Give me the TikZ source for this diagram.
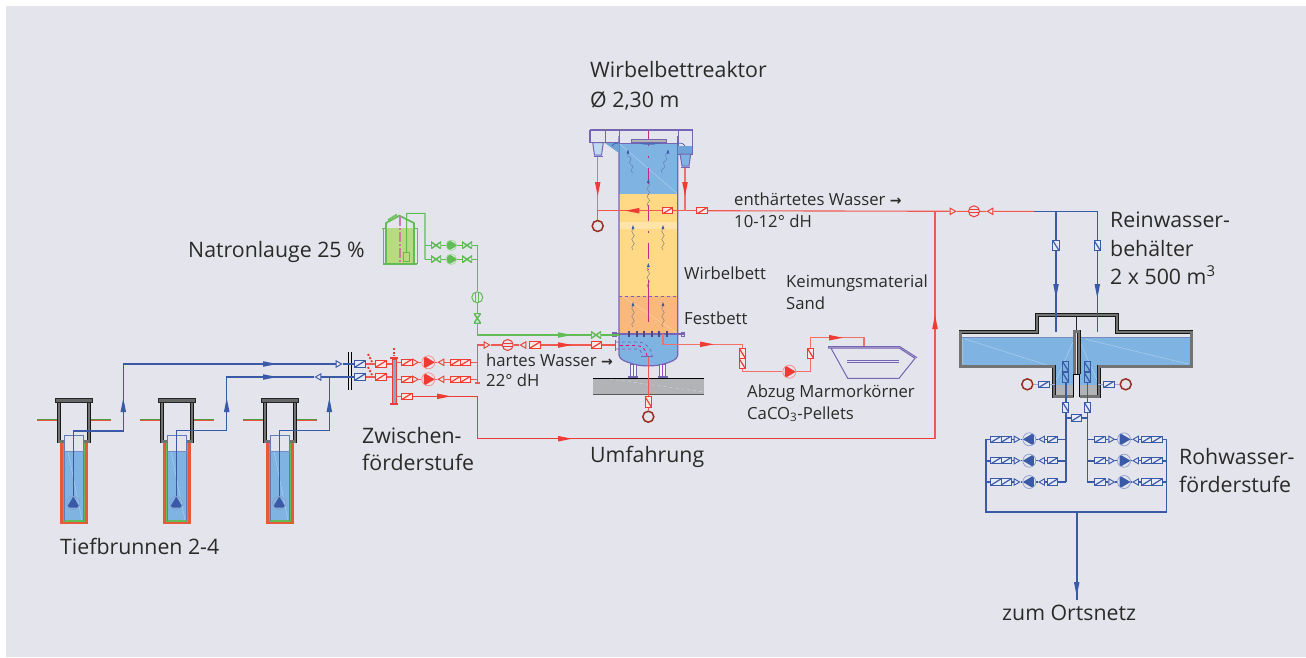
\documentclass[tikz,border=0pt]{standalone}
\usepackage{fontspec}
\setmainfont{Open Sans}[Scale=1]
\newfontfamily\arrfont{DejaVu Sans}
\usetikzlibrary{shapes.geometric,decorations.pathmorphing}
\definecolor{bgc}{HTML}{E4E5EC}
\definecolor{rd}{HTML}{EE3B33}
\definecolor{rdl}{HTML}{F2706A}
\definecolor{bl}{HTML}{3A5AA8}
\definecolor{gr}{HTML}{62BC55}
\definecolor{grf}{HTML}{B7DC80}
\definecolor{pu}{HTML}{7565B3}
\definecolor{dkr}{HTML}{9B2C22}
\definecolor{wat}{HTML}{7FB4E2}
\definecolor{yel}{HTML}{FFD985}
\definecolor{ora}{HTML}{F9B87C}
\definecolor{gry}{HTML}{B1B3B6}
\definecolor{txc}{HTML}{2B2A29}
\definecolor{cas}{HTML}{E8593A}
\tikzset{
 big/.style={anchor=base west,inner sep=0,text=txc,font=\fontsize{21.3}{24}\selectfont},
 small/.style={anchor=base west,inner sep=0,text=txc,font=\fontsize{16.7}{19}\selectfont},
 vh/.style={rectangle,draw=#1,fill=#1!12,line width=1pt,minimum width=10.5pt,minimum height=6.5pt,inner sep=0,
   path picture={\draw[#1,line width=1.2pt](path picture bounding box.south west)--(path picture bounding box.north east);}},
 vv/.style={rectangle,draw=#1,fill=#1!12,line width=1pt,minimum width=6.5pt,minimum height=10.5pt,inner sep=0,
   path picture={\draw[#1,line width=1.2pt](path picture bounding box.north west)--(path picture bounding box.south east);}},
 chkr/.style={isosceles triangle,isosceles triangle apex angle=60,shape border rotate=0,draw=#1,line width=.9pt,minimum size=5.5pt,inner sep=0},
 chkl/.style={isosceles triangle,isosceles triangle apex angle=60,shape border rotate=180,draw=#1,line width=.9pt,minimum size=5.5pt,inner sep=0},
 pmpr/.style={circle,draw=#1!60,line width=.7pt,minimum size=13pt,inner sep=0,
   path picture={\fill[#1](path picture bounding box.center)++(6.5pt,0pt)--++(-11pt,6.5pt)--++(0pt,-13pt)--cycle;}},
 pmpl/.style={circle,draw=#1!60,line width=.7pt,minimum size=13pt,inner sep=0,
   path picture={\fill[#1](path picture bounding box.center)++(-6.5pt,0pt)--++(11pt,6.5pt)--++(0pt,-13pt)--cycle;}},
 pmpu/.style={circle,draw=#1!60,line width=.7pt,minimum size=13pt,inner sep=0,
   path picture={\fill[#1](path picture bounding box.center)++(0pt,6.5pt)--++(6.5pt,-11pt)--++(-13pt,0pt)--cycle;}},
 flowh/.style={circle,draw=#1,line width=1pt,minimum size=11pt,inner sep=0,
   path picture={\draw[#1,line width=.8pt]([yshift=1.5pt]path picture bounding box.west)--([yshift=1.5pt]path picture bounding box.east)
     ([yshift=-1.5pt]path picture bounding box.west)--([yshift=-1.5pt]path picture bounding box.east);}},
 flowv/.style={circle,draw=#1,line width=1pt,minimum size=11pt,inner sep=0,
   path picture={\draw[#1,line width=.8pt]([xshift=1.5pt]path picture bounding box.north)--([xshift=1.5pt]path picture bounding box.south)
     ([xshift=-1.5pt]path picture bounding box.north)--([xshift=-1.5pt]path picture bounding box.south);}},
 bowh/.style={rectangle,minimum width=10pt,minimum height=7pt,inner sep=0,
   path picture={\draw[#1,line width=1.5pt](path picture bounding box.south west)--(path picture bounding box.north east)--(path picture bounding box.south east)--(path picture bounding box.north west)--cycle;}},
 bowv/.style={rectangle,minimum width=7pt,minimum height=10pt,inner sep=0,
   path picture={\draw[#1,line width=1.5pt](path picture bounding box.south west)--(path picture bounding box.south east)--(path picture bounding box.north west)--(path picture bounding box.north east)--cycle;}},
 sink/.style={circle,draw=dkr,line width=1.5pt,minimum size=11pt,inner sep=0},
 rp/.style={draw=rd!85,line width=1.1pt},
 rpt/.style={draw=rd,line width=1.5pt},
 bp/.style={draw=bl,line width=1.1pt},
 bpt/.style={draw=bl,line width=1.6pt},
 gp/.style={draw=gr,line width=1.1pt},
 wall/.style={draw=black!90,line width=.7pt,double=black!55,double distance=2.2pt},
 wave/.style={draw=#1,line width=.45pt,decorate,decoration={snake,amplitude=1.3pt,segment length=8pt}},
 pale/.style={draw=white,opacity=.4,line width=.4pt},
}
\newcommand{\farr}[4]{\fill[#1,shift={(#2,#3)},rotate=#4](0,-2.8)--(14,0)--(0,2.8)--cycle;}
\newcommand{\well}[2]{%
 \draw[draw=cas,line width=1.8pt] (#2-37,420)--(#2-16,420) (#2+16,420)--(#2+37,420);
 \draw[draw=gr!80!black,line width=.8pt] (#2-37,419.5)--(#2-16,419.5) (#2+16,419.5)--(#2+37,419.5);
 \fill[cas] (#2-13.7,441.7) rectangle (#2+13.7,524);
 \fill[bgc] (#2-10.5,441.7) rectangle (#2+10.5,521);
 \fill[wat] (#2-10,451.7) rectangle (#2+10,520.5);
 \draw[pale] (#2-6,451.7)--(#2+8,520);
 \draw[gr,line width=1.1pt] (#2-10.5,441.7)--(#2-10.5,521)--(#2+10.5,521)--(#2+10.5,441.7);
 \draw[bl!80,line width=.8pt] (#2-9.7,520.5)--(#2-9.7,435.3)--(#2+9.7,435.3)--(#2+9.7,520.5);
 \draw[bl!70,line width=1.2pt] (#2-9.7,451.7)--(#2+9.7,451.7);
 \draw[wall] (#2-10,441.5)--(#2-15,441.5)--(#2-15,400)--(#2+15,400)--(#2+15,441.5)--(#2+10,441.5);
 \draw[black!85,fill=black!60,line width=.5pt] (#2-18.3,398) rectangle (#2+18.3,401.8);
 \node[pmpu=bl] (#1) at (#2-.7,503) {};
}
\begin{document}
\begin{tikzpicture}[x=1pt,y=-1pt]
\useasboundingbox (0,0) rectangle (1306,657);
\fill[white] (0,0) rectangle (1306,657);
\fill[bgc] (6,6) rectangle (1306,657);

% ---------- wells
\well{wa}{74}
\well{wb}{177}
\well{wc}{280}
\coordinate (wa1) at (73.3,430.7);
\coordinate (wa2) at (123.3,430.7);
\coordinate (wa3) at (123.3,364);
\coordinate (wb1) at (176.3,430.7);
\coordinate (wb2) at (226.7,430.7);
\coordinate (wb3) at (226.7,377);
\coordinate (wc1) at (279.3,430.7);
\coordinate (wc2) at (329.3,430.7);
\coordinate (wc3) at (329.3,377);
\draw[black,line width=1pt] (348.4,352)--(348.4,390) (351.6,352)--(351.6,390);
\node[chkr=bl] (c1) at (338,364) {};
\node[chkl=bl] (c2) at (319,377) {};
\node[vh=bl] (b1) at (360,364) {};
\node[vh=bl] (b2) at (360,377) {};
\draw[bpt] (wa) -- (wa1) -- (wa2) -- (wa3) -- (c1);
\draw[bp] (wb) -- (wb1) -- (wb2) -- (wb3) -- (c2);
\draw[bp] (wc) -- (wc1) -- (wc2) -- (wc3) -- (c2);
\draw[bp] (c1) -- (b1);
\draw[bp] (c2) -- (b2);
\farr{bl}{123.3}{412}{90}
\farr{bl}{226.7}{412}{90}
\farr{bl}{329.3}{412}{90}
\farr{bl}{263}{364}{0}
\farr{bl}{263}{377}{0}

% ---------- intermediate pumping stage
\fill[wat!85!gray] (392,359) rectangle (396,403);
\draw[rd,line width=1pt] (392,359) rectangle (396,403);
\draw[rd,line width=2pt] (390,358)--(398,358) (390,404)--(398,404);
\draw[rd,line width=2pt,dash pattern=on 2pt off 1.6pt] (394,348)--(394,356);
\draw[rd,line width=2pt,dash pattern=on 2pt off 1.6pt] (368,354)--(372,362) (368,367)--(372,375);
\coordinate (d1) at (370,364);
\coordinate (d2) at (370,377);
\coordinate (h1) at (392,364);
\coordinate (h2) at (392,377);
\node[vh=rd] (r1) at (381,364) {};
\node[vh=rd] (r2) at (381,377) {};
\draw[rp] (b1) -- (r1) -- (h1);
\draw[rp] (b2) -- (r2) -- (h2);
\foreach \n/\y in {a/362.3,b/379.3}{
 \node[vh=rd] (s\n1) at (407,\y) {};
 \node[chkr=rd] (s\n2) at (414.5,\y) {};
 \node[pmpr=rd] (s\n3) at (428.3,\y) {};
 \node[chkl=rd] (s\n4) at (442,\y) {};
 \node[vh=rd] (s\n5) at (455.5,\y) {};
 \node[vh=rd] (s\n6) at (465.5,\y) {};
 \coordinate (s\n0) at (396,\y);
 \coordinate (s\n7) at (477.3,\y);
 \draw[rp] (s\n0)--(s\n1) (s\n2)--(s\n3)--(s\n4)--(s\n5) (s\n6)--(s\n7);
}
\node[vh=rd] (by) at (407,396.3) {};
\coordinate (by0) at (396,396.3);
\coordinate (by1) at (477.3,396.3);
\coordinate (by2) at (477.3,438.7);
\coordinate (by3) at (935,438.7);
\coordinate (by4) at (935,211);
\draw[rp] (by0)--(by);
\draw[rpt] (by)--(by1)--(by2)--(by3);
\draw[rp] (by3)--(by4);
\farr{rd}{437}{396.3}{0}
\farr{rd}{558}{438.7}{0}
\farr{rd}{935}{329}{90}

% ---------- hard water line
\coordinate (hw0) at (477.3,383);
\coordinate (hw1) at (477.3,345);
\draw[rp] (hw0)--(hw1);
\draw[rp] (474.5,383)--(480,383);
\node[chkr=rd] (hc1) at (486,345) {};
\node[flowh=rd] (hf) at (507.7,345) {};
\node[chkl=rd] (hc2) at (524,345) {};
\node[vh=rd] (hv1) at (535,345) {};
\node[vh=rd] (hv2) at (596.7,345) {};
\coordinate (hend) at (616,345);
\draw[rp] (hw1)--(hc1)--(hf)--(hc2) (hv1)--(hv2)--(hend);
\farr{rd}{558}{345}{0}

% ---------- reactor body
\fill[wat] (619,143.3) rectangle (677.7,194);
\fill[yel] (619,194) rectangle (677.7,296);
\fill[yel!70!white] (619,222) rectangle (677.7,229);
\fill[ora] (619,296) rectangle (677.7,333.5);
\fill[wat] (619,333.5)--(677.7,333.5)--(677.7,355) .. controls (677.7,360) and (670,362) .. (664,364) .. controls (655,366.5) and (641,366.5) .. (633,364) .. controls (627,362) and (619,360) .. (619,355) -- cycle;
\draw[pale] (619,143.3)--(677.7,194);
\draw[pale] (622,296)--(677,333);
\draw[pu,line width=1.2pt] (619,136)--(619,355) .. controls (619,360) and (627,362) .. (633,364) .. controls (641,366.5) and (655,366.5) .. (664,364) .. controls (670,362) and (677.7,360) .. (677.7,355) -- (677.7,136);
\draw[pu,line width=1pt] (619,143.3)--(677.7,143.3);
\draw[pu,line width=.9pt,dashed] (619,296)--(677.7,296);
\draw[magenta!80!black,line width=.8pt,dash pattern=on 16pt off 10pt on 1.5pt off 10pt] (648.3,130)--(648.3,296);
\draw[magenta!80!black,line width=.9pt] (648.3,296)--(648.3,322);
% head
\draw[pu,line width=1.2pt] (590,130)--(692.7,130)--(692.7,154)--(678,154) (590,130)--(590,142.7)--(619,142.7);
\draw[pu,line width=.7pt] (605,130)--(605,142.7) (619,130)--(619,143) (678,130)--(678,154);
\fill[wat!80!bl] (605,143)--(619,143)--(619,153)--cycle;
\fill[wat!80!bl] (678,146)--(692,146)--(692,154)--(678,154)--cycle;
\draw[pu,line width=1pt,fill=wat!50] (592.7,142.7)--(603.3,142.7)--(601.5,155)--(594.5,155)--cycle;
\draw[pu,line width=1.4pt] (593.5,156.7)--(602.5,156.7);
\draw[pu,line width=1pt,fill=wat] (680,154)--(690.7,154)--(689,166)--(682,166)--cycle;
\draw[pu,line width=1.4pt] (681,167.7)--(690,167.7);
\fill[bl!80!wat] (634,141)--(664,141) .. controls (658,146) and (640,146) .. (634,141) -- cycle;
\draw[pu,fill=gray!60,line width=.5pt] (631,139.5) rectangle (666,142.5);
\draw[bl,line width=.7pt] (612,146) .. controls (614,143) and (616,143) .. (619,143) (677.7,143) .. controls (681,143) and (683,143) .. (685,146);
% waves
\draw[wave=bl!80] (633,173)--(628,151);
\draw[wave=bl!80] (662,173)--(668,150);
\draw[wave=gray] (648.3,207)--(648.3,180);
\draw[wave=gray] (633,250)--(633,227);
\draw[wave=gray] (663,250)--(663,227);
\draw[wave=gray] (648.3,288)--(648.3,265);
\draw[wave=gray] (633,327)--(633,304);
\draw[wave=gray] (663,327)--(663,304);
\fill[bl] (633,225)--(631.6,229)--(634.4,229)--cycle (663,225)--(661.6,229)--(664.4,229)--cycle (648.3,263)--(646.9,267)--(649.7,267)--cycle
 (633,302)--(631.6,306)--(634.4,306)--cycle (663,302)--(661.6,306)--(664.4,306)--cycle (648.3,179)--(646.9,183)--(649.7,183)--cycle
 (628,149.5)--(626.6,153.5)--(629.4,153.5)--cycle (668,149.5)--(666.6,153.5)--(669.4,153.5)--cycle;
% bottom plate & inlet
\draw[pu,line width=1.8pt] (612.7,334)--(684,334);
\draw[pu,line width=.8pt] (612.7,332)--(616,332)--(616,336)--(612.7,336)--cycle (681,332)--(684,332)--(684,336)--(681,336)--cycle;
\foreach \x in {629,637,644,652,659,667}{\draw[pu!70!black,line width=2pt] (\x,331)--(\x,337);}
\draw[pu,line width=.9pt] (615,340)--(615,351);
\draw[pu,line width=.8pt,dashed] (616,342)--(638,342) .. controls (645,342) and (652,349) .. (652,356);
\draw[pu,line width=.8pt,dashed] (616,349)--(636,349) .. controls (640,349) and (642,352) .. (642,356);
\draw[pu,line width=1pt] (641,356.6)--(653,356.6);
\draw[magenta!70!red,line width=.8pt,dashed] (620,345.5)--(636,345.5) .. controls (642,345.5) and (647,350) .. (647,356);
% legs & foundation
\foreach \x in {633.3,662.7}{
 \draw[pu,line width=.8pt,fill=white!60!bgc] (\x-3,364) rectangle (\x+3,377);
 \draw[pu!70!magenta,line width=.8pt] (\x,364)--(\x,377);
 \draw[pu,line width=1.1pt] (\x-5,377)--(\x+5,377);
}
\fill[gry] (593.3,378.3) rectangle (704,394);
\draw[black,line width=.9pt] (593.3,378.3)--(704,378.3);
\draw[black!65,line width=.9pt] (593.3,394)--(704,394);
\draw[white,opacity=.5,line width=.4pt,dashed] (610,379)--(704,392);
% reactor outlets
\node[sink] (s1) at (597.7,226) {};
\coordinate (o1) at (597.7,157);
\coordinate (o2) at (597.7,210.7);
\node[vh=rd] (rv1) at (667.7,210.7) {};
\coordinate (o3) at (685,167.7);
\coordinate (o4) at (685,210.7);
\node[vh=rd] (rv2) at (702,210.7) {};
\draw[draw=rdl,line width=1.2pt] (o1)--(o2);
\draw[rp] (s1)--(o2)--(rv1)--(o4)--(rv2);
\draw[draw=rdl,line width=1.2pt] (o3)--(o4);
\farr{rd}{597.7}{182}{-90}
\farr{rd}{685}{182}{-90}
\farr{rd}{639.3}{210.7}{180}
% soft water line
\node[chkr=rd] (sw1) at (952,211.3) {};
\node[flowh=rd] (sw2) at (974,211.3) {};
\node[chkl=rd] (sw3) at (991,211.3) {};
\coordinate (sw4) at (1034,211.3);
\draw[rp] (rv2)--(sw1)--(sw2)--(sw3)--(sw4);
% bottom drain
\node[vv=rd] (dv) at (648.3,402) {};
\node[sink] (ds) at (648.3,416.7) {};
\coordinate (d0) at (648.3,356.6);
\draw[rp] (d0)--(dv)--(ds);
% pellet discharge
\coordinate (p0) at (663,334);
\coordinate (p1) at (663,344.3);
\coordinate (p2) at (742.3,344.3);
\node[vv=rd] (pv1) at (742.3,353.3) {};
\node[vv=rd] (pv2) at (742.3,363.7) {};
\coordinate (p3) at (742.3,371.7);
\node[pmpr=rd] (pp) at (789.3,371.7) {};
\coordinate (p4) at (810.7,371.7);
\node[vv=rd] (pv3) at (810.7,353.7) {};
\coordinate (p5) at (810.7,337.7);
\coordinate (p6) at (864,337.7);
\coordinate (p7) at (864,346.7);
\draw[draw=rdl,line width=1.2pt] (p0)--(p1)--(p2)--(pv1) (pv2)--(p3)--(pp)--(p4)--(pv3)--(p5)--(p6)--(p7);
\farr{rd}{700}{344.3}{0}
\farr{rd}{829}{337.7}{0}
% skip
\draw[pu,line width=1pt] (828,346.7)--(900,346.7)--(917,357.7) (828,348.2)--(899.5,348.2)--(915,358.3)--(899,378.3)--(847.7,378.3)--(831,348.2);
\draw[pu,line width=1pt] (828,346.7)--(828,348.2);
\draw[pu,line width=1pt] (847,360.7)--(899,360.7) (847,362.6)--(899,362.6);

% ---------- caustic soda
\fill[grf] (386,228) rectangle (414,264);
\draw[gr,line width=1.7pt] (386,264)--(386,223)--(399.3,215.7)--(414,223)--(414,264);
\draw[gr,line width=1.7pt] (383,264)--(417,264);
\draw[gr,line width=1pt] (383,228.5)--(383,264) (417,228.5)--(417,264) (382,228.5)--(386,228.5) (414,228.5)--(418,228.5);
\draw[gr,line width=1.8pt,dash pattern=on 1.5pt off .5pt] (388,220)--(397,214.5);
\draw[magenta!55!gray!80,line width=1.6pt,dash pattern=on 10pt off 2pt on 2pt off 2pt] (399.7,216)--(399.7,263);
\node[rectangle,draw=gr,line width=1pt,minimum width=6.5pt,minimum height=9pt,inner sep=0] (nbox) at (406.5,257.2) {};
\coordinate (n1) at (406.7,213.3);
\coordinate (n2) at (425,213.3);
\coordinate (n3) at (425,245.3);
\coordinate (n4) at (425,259.3);
\draw[gp] (nbox)--(n1)--(n2)--(n4);
\foreach \n/\y in {a/245.3,b/259.3}{
 \node[bowh=gr] (g\n1) at (436,\y) {};
 \node[pmpr=gr,minimum size=10.5pt] (g\n2) at (451.3,\y) {};
 \node[bowh=gr] (g\n3) at (467,\y) {};
 \coordinate (g\n4) at (477.3,\y);
}
\draw[gp] (n3)--(ga1)--(ga2)--(ga3)--(ga4);
\draw[gp] (n4)--(gb1)--(gb2)--(gb3)--(gb4);
\node[flowv=gr] (gf) at (477.3,297.3) {};
\node[bowv=gr] (gv) at (477.3,318.3) {};
\coordinate (g5) at (477.3,335);
\node[bowh=gr] (gv2) at (596,335) {};
\coordinate (g6) at (619,335);
\draw[gp] (ga4)--(gf)--(gv)--(g5)--(gv2)--(g6);
\farr{gr}{558}{335}{0}

% ---------- clean water tank
\fill[wat] (962.3,337.3)--(1073.3,337.3)--(1073.3,385)--(1055,385)--(1055,366)--(962.3,366)--cycle;
\fill[wat] (1190.7,337.3)--(1080,337.3)--(1080,385)--(1098,385)--(1098,366)--(1190.7,366)--cycle;
\fill[gry] (1055,385)--(1073.3,385)--(1073.3,396.7)--(1055,396.7)--cycle;
\fill[gry] (1080,385)--(1098,385)--(1098,396.7)--(1080,396.7)--cycle;
\draw[pale] (965,339)--(1050,366) (1073,342)--(1056,380) (1080,342)--(1097,380) (1085,339)--(1188,364);
\draw[bl!70,line width=1.4pt] (962.3,337.3)--(1073.3,337.3) (1080,337.3)--(1190.7,337.3);
\draw[wall] (1073.5,396.5)--(1054,396.5)--(1054,366.5)--(960.5,366.5)--(960.5,331.7)--(1037,331.7)--(1037,315)--(1117,315)--(1117,331.7)--(1191.5,331.7)--(1191.5,366.5)--(1099,366.5)--(1099,396.5)--(1080,396.5);
\draw[black!85,line width=1pt] (1076.7,316)--(1076.7,330);
\draw[wall] (1074.5,374)--(1074.5,331.5)--(1079,331.5)--(1079,374);
\fill[bgc] (1074,374.5) rectangle (1079.5,397);
\draw[black,line width=1pt] (1073.3,397)--(1073.3,374.5)--(1079.5,374.5)--(1079.5,397);
\node[vv=bl,fill=wat] (tl1) at (1065.7,366.7) {};
\node[vv=bl,fill=wat] (tl2) at (1065.7,377.7) {};
\node[vv=bl,fill=wat] (tr1) at (1087.3,366.7) {};
\node[vv=bl,fill=wat] (tr2) at (1087.3,377.7) {};
\node[vv=bl] (tl3) at (1065.7,407.3) {};
\node[vv=bl] (tr3) at (1087.3,407.3) {};
\node[vh=bl] (tx) at (1076.5,418) {};
\coordinate (tl4) at (1065.7,418);
\coordinate (tr4) at (1087.3,418);
\coordinate (tl5) at (1065.7,482);
\coordinate (tr5) at (1087.3,482);
\draw[bpt] (tl1)--(tl2)--(tl3)--(tl5);
\draw[bpt] (tr1)--(tr2)--(tr3)--(tr5);
\draw[bp] (tl4)--(tx)--(tr4);
\node[vh=bl] (sv1) at (1044,384.3) {};
\node[sink] (sc1) at (1027.3,384.3) {};
\node[vh=bl] (sv2) at (1109,384.3) {};
\node[sink] (sc2) at (1125.7,384.3) {};
\coordinate (sa1) at (1055,384.3);
\coordinate (sa2) at (1098,384.3);
\draw[bp,draw=bl!50,line width=.7pt] (sc1)--(sv1)--(sa1) (sc2)--(sv2)--(sa2);
% inlets
\coordinate (f0) at (1056,211.3);
\coordinate (f1) at (1097.3,211.3);
\node[vv=bl] (fv1) at (1056,245.7) {};
\node[vv=bl] (fv2) at (1097.3,245.7) {};
\coordinate (f2) at (1056,331.7);
\coordinate (f3) at (1097.3,331.7);
\draw[bp] (sw4)--(f0)--(f1)--(fv2)--(f3) (f0)--(fv1)--(f2);
\farr{bl}{1056}{284}{-90}
\farr{bl}{1097.3}{284}{-90}

% ---------- raw water pumps
\coordinate (m1) at (986,439.3);
\coordinate (m2) at (986,512);
\coordinate (m3) at (1166.3,512);
\coordinate (m4) at (1166.3,439.3);
\draw[bpt] (m1)--(m2)--(m3)--(m4);
\foreach \n/\y in {a/439.3,b/460.7,c/482}{
 \coordinate (l\n0) at (1065.7,\y);
 \node[vh=bl] (l\n1) at (1052.7,\y) {};
 \node[chkl=bl] (l\n2) at (1042.7,\y) {};
 \node[pmpl=bl] (l\n3) at (1029.3,\y) {};
 \node[chkr=bl] (l\n4) at (1016,\y) {};
 \node[vh=bl] (l\n5) at (1006,\y) {};
 \node[vh=bl] (l\n6) at (996,\y) {};
 \coordinate (l\n7) at (986,\y);
 \draw[bpt] (l\n0)--(l\n1) (l\n6)--(l\n7);
 \draw[bp] (l\n1)--(l\n2)--(l\n3)--(l\n4)--(l\n5);
 \coordinate (q\n0) at (1087.3,\y);
 \node[vh=bl] (q\n1) at (1100,\y) {};
 \node[chkr=bl] (q\n2) at (1110.7,\y) {};
 \node[pmpr=bl] (q\n3) at (1124,\y) {};
 \node[chkl=bl] (q\n4) at (1136.7,\y) {};
 \node[vh=bl] (q\n5) at (1147,\y) {};
 \node[vh=bl] (q\n6) at (1157,\y) {};
 \coordinate (q\n7) at (1166.3,\y);
 \draw[bpt] (q\n0)--(q\n1) (q\n6)--(q\n7);
 \draw[bp] (q\n1)--(q\n2)--(q\n3)--(q\n4)--(q\n5);
}
\coordinate (z0) at (1076.7,512);
\coordinate (z1) at (1076.7,600);
\draw[bpt] (z0)--(z1);
\farr{bl}{1076.7}{582}{-90}

% ---------- labels
\node[big] (t1) at (590,77) {Wirbelbettreaktor};
\node[big] (t2) at (590,107) {Ø 2,30 m};
\node[big] (t3) at (188,257) {Natronlauge 25 \%};
\node[small] (t4) at (734,205) {enthärtetes Wasser {\arrfont\bfseries\fontsize{14}{14}\selectfont →}};
\node[small] (t5) at (734,227) {10-12° dH};
\node[small] (t6) at (684,279) {Wirbelbett};
\node[small] (t7) at (684,324) {Festbett};
\node[small] (t8) at (786,287) {Keimungsmaterial};
\node[small] (t9) at (786,309) {Sand};
\node[small] (t10) at (486,366) {hartes Wasser {\arrfont\bfseries\fontsize{14}{14}\selectfont →}};
\node[small] (t11) at (486,386) {22° dH};
\node[small] (t12) at (747,397) {Abzug Marmorkörner};
\node[small] (t13) at (747,419) {CaCO\textsubscript{3}-Pellets};
\node[big] (t14) at (590,462) {Umfahrung};
\node[big] (t15) at (362,443) {Zwischen-};
\node[big] (t16) at (362,470) {förderstufe};
\node[big] (t17) at (60,554) {Tiefbrunnen 2-4};
\node[big] (t18) at (1110,227) {Reinwasser-};
\node[big] (t19) at (1110,256) {behälter};
\node[big] (t20) at (1110,284) {2 x 500 m\textsuperscript{3}};
\node[big] (t21) at (1179,464) {Rohwasser-};
\node[big] (t22) at (1179,492) {förderstufe};
\node[big] (t23) at (1002,620) {zum Ortsnetz};
\end{tikzpicture}
\end{document}
